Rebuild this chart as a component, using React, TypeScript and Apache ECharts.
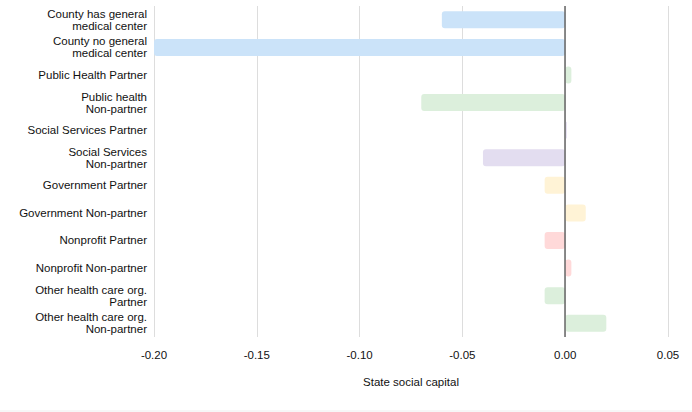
import React, { useEffect, useRef } from "react";
import * as echarts from "echarts";

const categories = [
  "County has general\nmedical center",
  "County no general\nmedical center",
  "Public Health Partner",
  "Public health\nNon-partner",
  "Social Services Partner",
  "Social Services\nNon-partner",
  "Government Partner",
  "Government Non-partner",
  "Nonprofit Partner",
  "Nonprofit Non-partner",
  "Other health care org.\nPartner",
  "Other health care org.\nNon-partner",
];

const values = [-0.06, -0.2, 0.003, -0.07, 0.0008, -0.04, -0.01, 0.01, -0.01, 0.003, -0.01, 0.02];

const barColors = [
  "#cbe3f9", "#cbe3f9",
  "#dcefdc", "#dcefdc",
  "#e3ddf0", "#e3ddf0",
  "#fff3d6", "#fff3d6",
  "#ffd9d9", "#ffd9d9",
  "#dcefdc", "#dcefdc",
];

const xTicks = { min: -0.2, max: 0.05, interval: 0.05 };

export default function App() {
  const ref = useRef<HTMLDivElement>(null);
  useEffect(() => {
    if (!ref.current) return;
    const chart = echarts.init(ref.current, undefined, { renderer: "svg" });
    const font = "'Liberation Sans', Arial, sans-serif";
    chart.setOption({
      animation: false,
      backgroundColor: "#ffffff",
      grid: { left: 154, right: 24, top: 6, height: 331 },
      xAxis: {
        type: "value",
        min: xTicks.min,
        max: xTicks.max,
        interval: xTicks.interval,
        name: "State social capital",
        nameLocation: "middle",
        nameGap: 39,
        nameTextStyle: { color: "#111", fontSize: 11.5, fontFamily: font },
        axisLine: { show: false },
        axisTick: { show: false },
        splitLine: { show: true, lineStyle: { color: "#dddddd", width: 1 } },
        axisLabel: {
          color: "#111",
          fontSize: 11.5,
          fontFamily: font,
          margin: 12,
          formatter: (v: number) => v.toFixed(2),
        },
      },
      yAxis: {
        type: "category",
        data: categories,
        inverse: true,
        axisLine: { show: false },
        axisTick: { show: false },
        splitLine: { show: false },
        axisLabel: {
          color: "#111",
          fontSize: 11.5,
          fontFamily: font,
          margin: 7,
          lineHeight: 12,
          align: "right",
          padding: [2, 0, 0, 0],
        },
      },
      series: [
        {
          type: "bar",
          barWidth: 17,
          data: values.map((v, i) => ({
            value: v,
            itemStyle: {
              color: barColors[i],
              borderRadius: 3,
            },
          })),
          markLine: {
            silent: true,
            symbol: "none",
            label: { show: false },
            lineStyle: { color: "#666666", width: 1.5, type: "solid" },
            data: [{ xAxis: 0 }],
          },
        },
      ],
      graphic: [
        {
          type: "rect",
          left: 0,
          bottom: 0,
          shape: { width: 692, height: 2 },
          style: { fill: "#f7f7f7" },
        },
      ],
    });
    return () => chart.dispose();
  }, []);
  return (
    <div
      ref={ref}
      style={{ position: "fixed", left: 0, top: 0, width: 692, height: 412 }}
    />
  );
}
